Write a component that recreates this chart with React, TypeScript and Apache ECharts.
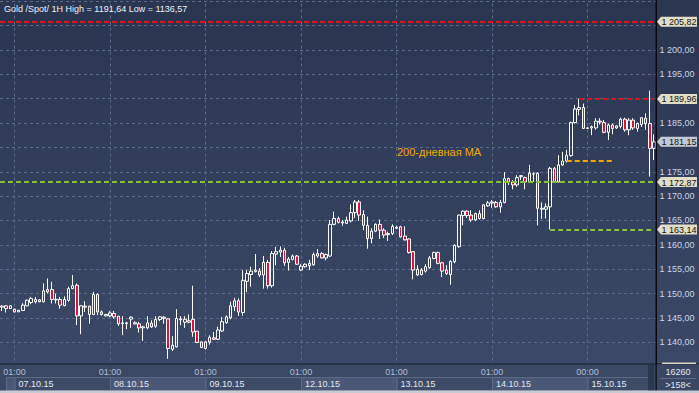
import React, { useEffect, useRef } from "react";
import * as echarts from "echarts";

const FONT = '"Liberation Sans", Arial, sans-serif';

// Trading sessions (hourly bars)
const dayLabels = ["06.10.15", "07.10.15", "08.10.15", "09.10.15", "12.10.15", "13.10.15", "14.10.15", "15.10.15"];
const dayFirstHour = [21, 1, 1, 1, 1, 1, 1, 0];
const dayBarCount = [3, 23, 23, 23, 23, 23, 23, 17];

const categories: string[] = [];
dayLabels.forEach((d, i) => {
  for (let h = 0; h < dayBarCount[i]; h++) {
    categories.push(`${d} ${String(dayFirstHour[i] + h).padStart(2, "0")}:00`);
  }
});

const tickLabels = [
  "07.10.15 01:00", "08.10.15 01:00", "09.10.15 01:00", "12.10.15 01:00",
  "13.10.15 01:00", "14.10.15 01:00", "15.10.15 00:00",
];

const opens = [
  1147.2, 1147.47, 1146.92, 1146.78, 1146.23, 1146.5, 1147.47, 1148.15, 1148.3, 1148.3,
  1148.3, 1150.82, 1150.82, 1148.7, 1148.77, 1147.5, 1148.6, 1151.0, 1151.7, 1145.4,
  1147.4, 1147.4, 1145.68, 1149.79, 1146.23, 1145.4, 1145.41, 1145.9, 1145.34, 1143.84,
  1143.97, 1144.73, 1143.75, 1143.77, 1142.95, 1142.95, 1143.9, 1143.29, 1144.66, 1145.14,
  1144.8, 1138.56, 1139.04, 1144.8, 1144.1, 1144.4, 1144.7, 1142.26, 1140.07, 1138.7,
  1140.0, 1140.9, 1140.6, 1142.3, 1144.0, 1145.0, 1147.3, 1148.5, 1146.1, 1152.5,
  1153.9, 1154.5, 1154.6, 1153.8, 1156.4, 1151.6, 1158.1, 1158.5, 1158.9, 1156.4,
  1157.0, 1157.7, 1154.8, 1155.5, 1155.7, 1155.9, 1157.7, 1158.2, 1157.3, 1157.7,
  1164.2, 1165.4, 1164.5, 1164.4, 1164.9, 1166.6, 1168.8, 1166.2, 1164.0, 1161.3,
  1162.8, 1164.2, 1163.0, 1162.3, 1162.3, 1163.4, 1163.7, 1161.8, 1161.2, 1158.6,
  1155.0, 1153.9, 1154.6, 1155.3, 1157.2, 1158.4, 1156.3, 1154.8, 1153.9, 1156.5,
  1159.6, 1166.0, 1166.9, 1166.1, 1165.1, 1166.4, 1165.4, 1168.0, 1168.6, 1168.7,
  1167.8, 1168.7, 1173.6, 1172.9, 1172.3, 1174.0, 1173.8, 1172.9, 1174.5, 1174.7,
  1167.3, 1167.3, 1167.8, 1175.7, 1172.9, 1176.4, 1177.2, 1178.3, 1185.1, 1187.8,
  1188.2, 1184.0, 1184.0, 1184.0, 1185.4, 1185.1, 1183.1, 1184.6, 1184.0, 1184.3,
  1185.8, 1183.6, 1185.6, 1183.9, 1184.7, 1186.0, 1184.9, 1179.8,
];
const closes = [
  1147.4, 1146.92, 1147.47, 1146.23, 1146.58, 1147.6, 1148.63, 1148.97, 1148.77, 1148.7,
  1150.55, 1150.34, 1148.77, 1148.8, 1147.6, 1148.77, 1151.0, 1151.6, 1145.4, 1147.47,
  1147.2, 1145.68, 1149.79, 1146.23, 1145.68, 1145.7, 1146.0, 1145.2, 1143.77, 1143.97,
  1143.84, 1145.14, 1144.0, 1142.95, 1143.15, 1143.97, 1143.15, 1144.66, 1145.21, 1144.9,
  1138.7, 1139.38, 1144.86, 1144.6, 1144.7, 1144.1, 1142.1, 1139.93, 1138.9, 1140.07,
  1141.0, 1140.6, 1142.5, 1144.2, 1145.2, 1147.47, 1148.5, 1146.2, 1152.7, 1154.1,
  1154.6, 1154.8, 1153.8, 1156.4, 1151.6, 1158.2, 1158.6, 1158.9, 1156.3, 1157.1,
  1157.7, 1156.0, 1155.6, 1156.0, 1156.2, 1158.0, 1158.2, 1157.3, 1158.0, 1164.2,
  1165.4, 1164.6, 1164.7, 1165.1, 1166.6, 1168.8, 1166.1, 1164.0, 1161.3, 1162.8,
  1164.2, 1163.0, 1162.0, 1162.1, 1163.8, 1163.6, 1161.6, 1161.0, 1158.4, 1154.8,
  1153.8, 1154.8, 1155.5, 1157.3, 1158.4, 1156.2, 1154.6, 1154.1, 1156.6, 1159.9,
  1166.1, 1166.9, 1166.0, 1165.1, 1166.4, 1165.4, 1168.2, 1168.6, 1168.8, 1167.8,
  1168.7, 1173.6, 1172.9, 1172.3, 1173.8, 1174.2, 1172.9, 1174.7, 1174.6, 1167.5,
  1167.5, 1167.8, 1175.7, 1172.9, 1176.4, 1177.2, 1178.4, 1185.1, 1187.9, 1188.2,
  1183.9, 1183.9, 1184.25, 1185.4, 1185.2, 1183.1, 1184.6, 1183.9, 1184.4, 1185.8,
  1183.6, 1185.6, 1184.0, 1184.9, 1186.1, 1184.9, 1179.8, 1181.15,
];
const lows = [
  1146.4, 1146.1, 1146.8, 1146.1, 1146.2, 1146.4, 1147.4, 1147.8, 1147.95, 1148.2,
  1148.2, 1150.0, 1147.95, 1147.95, 1146.9, 1147.4, 1148.3, 1150.9, 1143.5, 1141.64,
  1146.2, 1143.8, 1145.55, 1145.55, 1145.5, 1145.3, 1145.14, 1144.86, 1143.36, 1141.44,
  1142.67, 1142.95, 1143.7, 1141.99, 1140.27, 1142.67, 1142.95, 1142.95, 1144.32, 1143.8,
  1136.57, 1138.2, 1138.9, 1143.5, 1142.95, 1143.9, 1141.1, 1139.8, 1138.8, 1138.5,
  1139.5, 1140.5, 1140.5, 1142.1, 1143.8, 1144.7, 1146.4, 1145.4, 1145.4, 1150.3,
  1151.4, 1154.3, 1153.4, 1151.0, 1151.0, 1151.2, 1155.8, 1157.5, 1155.7, 1154.7,
  1156.8, 1155.9, 1154.6, 1155.3, 1154.8, 1155.7, 1157.3, 1157.2, 1156.8, 1157.5,
  1164.0, 1164.4, 1163.9, 1164.3, 1164.6, 1165.5, 1164.9, 1163.0, 1159.2, 1160.3,
  1162.6, 1161.2, 1161.4, 1160.8, 1162.0, 1163.2, 1161.5, 1160.9, 1158.2, 1152.9,
  1153.6, 1153.7, 1154.3, 1155.1, 1157.0, 1156.0, 1153.4, 1153.8, 1151.8, 1156.2,
  1159.4, 1164.0, 1165.5, 1164.7, 1164.9, 1165.2, 1165.2, 1167.8, 1167.6, 1167.6,
  1166.6, 1168.5, 1172.3, 1171.4, 1171.9, 1173.3, 1171.4, 1172.8, 1172.9, 1164.0,
  1165.3, 1165.4, 1163.14, 1172.8, 1172.8, 1176.2, 1176.9, 1178.1, 1184.9, 1186.6,
  1183.8, 1183.8, 1182.5, 1183.6, 1184.7, 1182.9, 1181.5, 1182.7, 1183.8, 1183.9,
  1183.2, 1182.5, 1183.6, 1183.2, 1184.2, 1183.6, 1174.0, 1177.4,
];
const highs = [
  1147.6, 1147.6, 1147.6, 1146.9, 1146.6, 1148.0, 1148.7, 1149.32, 1149.3, 1148.8,
  1152.05, 1153.08, 1152.4, 1150.0, 1149.3, 1149.4, 1151.4, 1153.8, 1152.05, 1147.6,
  1148.4, 1147.5, 1150.34, 1150.0, 1146.5, 1145.8, 1146.37, 1146.4, 1145.4, 1145.34,
  1144.18, 1145.34, 1144.3, 1144.18, 1143.36, 1145.34, 1144.5, 1145.34, 1145.34, 1145.34,
  1144.9, 1141.23, 1146.78, 1145.34, 1145.34, 1145.7, 1151.6, 1142.3, 1140.1, 1140.1,
  1141.4, 1142.1, 1143.2, 1145.2, 1145.5, 1148.3, 1149.1, 1149.0, 1154.8, 1154.8,
  1155.5, 1158.1, 1155.2, 1157.7, 1156.9, 1158.7, 1159.6, 1159.7, 1159.4, 1157.5,
  1158.0, 1157.9, 1156.0, 1156.2, 1156.9, 1158.4, 1159.1, 1158.5, 1158.2, 1165.1,
  1166.8, 1165.8, 1165.1, 1165.8, 1168.3, 1169.2, 1169.2, 1167.1, 1165.8, 1163.4,
  1164.4, 1165.2, 1163.4, 1162.7, 1164.2, 1163.9, 1163.9, 1163.8, 1161.3, 1158.7,
  1155.8, 1155.2, 1156.0, 1157.7, 1158.6, 1158.6, 1156.5, 1155.8, 1156.8, 1160.1,
  1166.2, 1167.1, 1167.1, 1167.1, 1166.6, 1167.1, 1168.3, 1169.0, 1169.2, 1169.0,
  1169.2, 1174.9, 1173.8, 1173.3, 1174.3, 1174.3, 1174.0, 1176.4, 1174.9, 1174.9,
  1168.7, 1168.5, 1176.0, 1176.0, 1178.4, 1179.1, 1179.5, 1185.3, 1188.7, 1189.96,
  1189.0, 1184.1, 1184.5, 1186.0, 1186.0, 1185.6, 1184.9, 1184.9, 1184.6, 1186.1,
  1186.1, 1186.0, 1186.0, 1185.1, 1186.1, 1187.0, 1191.64, 1182.7,
];

const titleText = "Gold /Spot/ 1H High = 1191,64 Low = 1136,57";
const resistanceLevel = 1205.82;
const supportLevel = 1172.87;
const sessionHigh = { value: 1189.96, from: 139 };
const sessionLow = { value: 1163.14, from: 132 };
const ma200 = { value: 1177.2, from: 136, to: 147, label: "200-дневная МА" };
const lastPrice = 1181.15;
const barsCount = "16260";
const visibleBars = ">158<";
// y tick labels covered by price tags in the reference
const hiddenTicks = [1180, 1190, 1205];

const RED = "#d8141c";
const GREEN = "#86c03c";
const ORANGE = "#f5a800";

const fmtPrice = (v: number) => {
  const s = v.toFixed(2).replace(".", ",");
  const [ip, dp] = s.split(",");
  return `${ip.slice(0, ip.length - 3)} ${ip.slice(-3)},${dp}`;
};

export default function App() {
  const ref = useRef<HTMLDivElement>(null);
  useEffect(() => {
    document.body.style.margin = "0";
    const chart = echarts.init(ref.current!, undefined, { renderer: "svg" });
    const tickSet = new Set(tickLabels);
    const lineSty = (c: string) => ({ color: c, type: [5, 3] as any, width: 2 });
    const option: any = {
      animation: false,
      backgroundColor: new echarts.graphic.LinearGradient(0, 0, 0, 1, [
        { offset: 0, color: "#2a3550" },
        { offset: 1, color: "#3c4a69" },
      ]),
      textStyle: { fontFamily: FONT },
      grid: { left: 0, right: 43, top: 1.3, bottom: 26.45, outerBoundsMode: "none", containLabel: false },
      xAxis: [
        {
          type: "category",
          data: categories,
          position: "bottom",
          z: 60,
          axisLine: { show: false },
          axisTick: { show: false },
          splitLine: { show: false },
          axisLabel: {
            interval: (i: number, v: string) => tickSet.has(v),
            formatter: (v: string) => v.split(" ")[1],
            color: "#aebfd9",
            fontSize: 9,
            fontFamily: FONT,
            margin: 1,
          },
        },
        {
          type: "category",
          data: categories,
          position: "bottom",
          offset: 11.5,
          z: 60,
          axisLine: { show: false },
          axisTick: { show: false },
          splitLine: { show: false },
          axisLabel: {
            interval: (i: number, v: string) => tickSet.has(v),
            formatter: (v: string) => v.split(" ")[0],
            color: "#e2e8f2",
            fontSize: 9,
            fontFamily: FONT,
            margin: 1,
            align: "left",
            padding: [0, 0, 0, 4],
          },
        },
      ],
      yAxis: {
        type: "value",
        position: "right",
        min: 1135,
        max: 1210,
        interval: 5,
        axisLine: { show: true, lineStyle: { color: "#080a10", width: 1 } },
        axisTick: { show: false },
        splitLine: { show: true, lineStyle: { color: "#5c6b8b", type: [3, 3], width: 1 } },
        axisLabel: {
          color: "#cdd6e6",
          fontSize: 9,
          fontFamily: FONT,
          margin: 3.5,
          formatter: (v: number) =>
            v < 1140 || v > 1200 || hiddenTicks.includes(v) ? "" : fmtPrice(v),
        },
      },
      series: [
        {
          type: "line",
          data: [],
          z: 1,
          silent: true,
          markLine: {
            z: 1,
            silent: true,
            symbol: ["none", "none"],
            label: { show: false },
            lineStyle: { color: "#5c6b8b", type: [3, 3], width: 1 },
            data: tickLabels.map((t) => ({ xAxis: t })),
          },
        },
        {
          type: "candlestick",
          z: 3,
          barWidth: 3,
          data: categories.map((_, i) => [opens[i], closes[i], lows[i], highs[i]]),
          itemStyle: {
            color: "rgba(0,0,0,0)",
            color0: "#e0103a",
            borderColor: "#ffffff",
            borderColor0: "#ffffff",
            borderColorDoji: "#ffffff",
            borderWidth: 1,
          },
          markLine: {
            silent: true,
            symbol: ["none", "none"],
            label: { show: false },
            data: [
              { yAxis: resistanceLevel, lineStyle: lineSty(RED) },
              { yAxis: supportLevel, lineStyle: lineSty(GREEN) },
              [
                { coord: [categories[sessionHigh.from], sessionHigh.value], lineStyle: lineSty(RED) },
                { coord: [categories[categories.length - 1], sessionHigh.value], lineStyle: lineSty(RED) },
              ],
              [
                { coord: [categories[sessionLow.from], sessionLow.value], lineStyle: lineSty(GREEN) },
                { coord: [categories[categories.length - 1], sessionLow.value], lineStyle: lineSty(GREEN) },
              ],
              [
                { coord: [categories[ma200.from], ma200.value], lineStyle: lineSty(ORANGE) },
                { coord: [categories[ma200.to], ma200.value], lineStyle: lineSty(ORANGE) },
              ],
            ],
          },
        },
      ],
    };
    chart.setOption(option);

    const yP = (v: number) => chart.convertToPixel({ yAxisIndex: 0 }, v) as number;
    const xP = (i: number) => chart.convertToPixel({ xAxisIndex: 0 }, categories[i]) as number;
    const tickIdx = tickLabels.map((t) => categories.indexOf(t));
    const g: any[] = [];
    const Z = 50;
    // x-axis band
    g.push({ type: "rect", z: Z, shape: { x: 0, y: 364, width: 699, height: 29 }, style: { fill: "#3b4864" } });
    const bounds = [6, ...tickIdx.map(xP), 648];
    for (let i = 0; i < bounds.length - 1; i++) {
      g.push({
        type: "rect", z: Z,
        shape: { x: bounds[i] + 0.5, y: 377.5, width: bounds[i + 1] - bounds[i], height: 13 },
        style: { fill: i % 2 === 0 ? "#4a5776" : "#3e4b67", stroke: "#5d6a88", lineWidth: 1 },
      });
    }
    g.push({ type: "rect", z: Z, shape: { x: 648, y: 365, width: 6, height: 26 }, style: { fill: "#2c364c" } });
    g.push({ type: "rect", z: Z, shape: { x: 0, y: 363.5, width: 699, height: 1 }, style: { fill: "#141a28" } });
    // right info box
    g.push({ type: "rect", z: Z, shape: { x: 657, y: 364.5, width: 42, height: 26 }, style: { fill: "#3a4764" } });
    g.push({ type: "rect", z: Z, shape: { x: 660, y: 378, width: 36, height: 1 }, style: { fill: "#5d6a88" } });
    g.push({ type: "rect", z: Z, shape: { x: 662, y: 362.5, width: 34, height: 1.5 }, style: { fill: "#d8d4c0" } });
    g.push({ type: "text", z: Z + 1, x: 678, y: 372, style: { text: barsCount, fill: "#e2e8f2", fontSize: 9, fontFamily: FONT, align: "center", verticalAlign: "middle" } });
    g.push({ type: "text", z: Z + 1, x: 678, y: 384.5, style: { text: visibleBars, fill: "#e2e8f2", fontSize: 9, fontFamily: FONT, align: "center", verticalAlign: "middle" } });
    // frame lines
    g.push({ type: "rect", z: Z + 2, shape: { x: 655.5, y: 0, width: 1.2, height: 393 }, style: { fill: "#080a10" } });
    g.push({ type: "rect", z: Z + 2, shape: { x: 0, y: 390.5, width: 699, height: 2.5 }, style: { fill: "#c6cad2" } });
    // price tags
    const tags = [
      { v: resistanceLevel, fill: "#e2ddc6" },
      { v: sessionHigh.value, fill: "#e2ddc6" },
      { v: lastPrice, fill: "#c3c9d4" },
      { v: supportLevel, fill: "#e2ddc6" },
      { v: sessionLow.value, fill: "#e2ddc6" },
    ];
    tags.forEach((t) => {
      const y = yP(t.v);
      g.push({
        type: "polygon", z: Z + 3,
        shape: { points: [[657, y], [661, y - 5], [697, y - 5], [697, y + 5], [661, y + 5]] },
        style: { fill: t.fill },
      });
      g.push({
        type: "text", z: Z + 4, x: 661.5, y: y + 0.5,
        style: { text: fmtPrice(t.v), fill: "#141414", fontSize: 9, fontFamily: FONT, align: "left", verticalAlign: "middle" },
      });
    });
    // title and MA annotation
    g.push({ type: "text", z: Z + 4, x: 4, y: 8.5, style: { text: titleText, fill: "#eef2f8", fontSize: 9, fontFamily: FONT, align: "left", verticalAlign: "middle" } });
    g.push({
      type: "text", z: Z, x: xP(95) + 0.5, y: yP(1179.0),
      style: { text: ma200.label, fill: ORANGE, fontSize: 11, fontFamily: FONT, align: "left", verticalAlign: "middle" },
    });
    chart.setOption({ graphic: g });
    return () => chart.dispose();
  }, []);
  return <div ref={ref} style={{ width: 699, height: 393 }} />;
}
